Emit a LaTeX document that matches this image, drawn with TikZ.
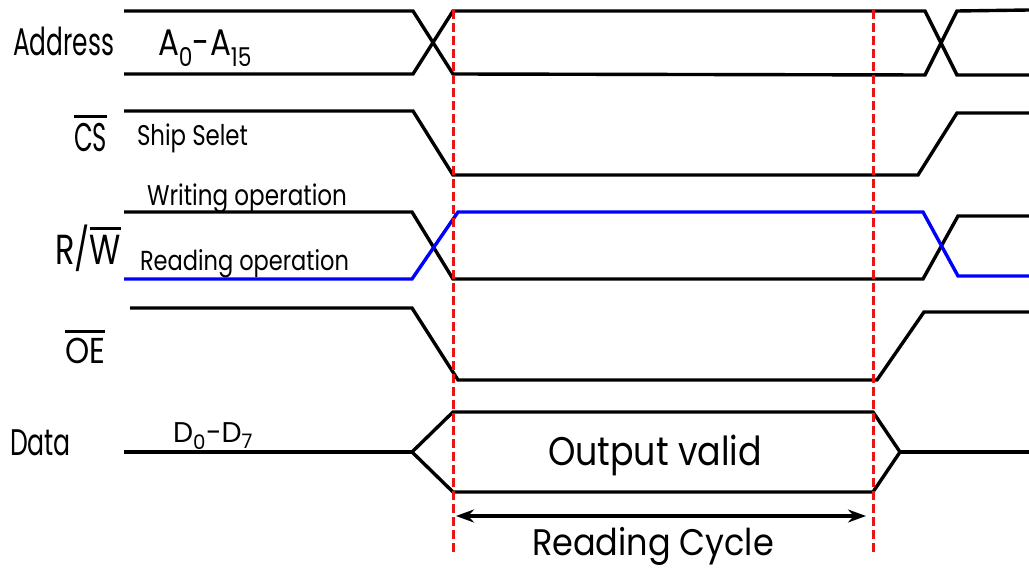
\documentclass[tikz,border=0pt]{standalone}
\usepackage{fontspec}
\setmainfont{Poppins}
\usetikzlibrary{arrows.meta}
% text of given width (pt) and size (pt), scaled horizontally only
\newcommand\fitw[3]{\resizebox{#1pt}{\height}{\fontsize{#2pt}{#2pt}\selectfont #3}}
% text-mode overline bar
\newcommand\ovbar[1]{\vbox{\hrule height 2.6pt\kern 6pt\hbox{#1}}}
\definecolor{wave}{RGB}{0,0,0}
\definecolor{rdwave}{RGB}{0,0,255}
\definecolor{marker}{RGB}{235,20,20}
\begin{document}
\begin{tikzpicture}[x=1pt,y=-1pt,
  sig/.style={draw=wave, line width=3.4pt, line join=miter},
  rdsig/.style={draw=rdwave, line width=3.4pt},
  mark line/.style={draw=marker, line width=3pt, dash pattern=on 9pt off 4pt},
  txt/.style={inner sep=0pt, outer sep=0pt, anchor=base west}]
\useasboundingbox (0,0) rectangle (1029,569);

% ---- signal names ----
\node[txt] (lAddr) at (13,56)  {\fitw{101}{38.5}{Address}};
\node[txt] (lCS)   at (74,152) {\fitw{33}{40}{\ovbar{CS}}};
\node[txt] (lRW)   at (55,265) {\fitw{66}{42}{R/\ovbar{W}}};
\node[txt] (lOE)   at (65,364) {\fitw{40}{36}{\ovbar{OE}}};
\node[txt] (lData) at (10,456) {\fitw{61}{37}{Data}};

% ---- annotations ----
\node[txt] (tAbus) at (158,56)  {\fitw{94}{37}{A\textsubscript{0}-A\textsubscript{15}}};
\node[txt] (tChip) at (137,146) {\fitw{111}{28.5}{Ship Selet}};
\node[txt] (tWr)   at (147,206) {\fitw{200}{28.5}{Writing operation}};
\node[txt] (tRd)   at (140,271) {\fitw{209}{27.5}{Reading operation}};
\node[txt] (tDbus) at (173,443) {\fitw{80}{28.5}{D\textsubscript{0}-D\textsubscript{7}}};
\node[txt] (tOut)  at (548,466) {\fitw{214}{40}{Output valid}};
\node[txt] (tCyc)  at (532,555) {\fitw{242}{37}{Reading Cycle}};

% ---- Address bus ----
\draw[sig] (124,11) -- (413,11) -- (453,74) -- (925,75) -- (957,11) -- (1029,10);
\draw[sig] (124,74) -- (413,74) -- (453,11) -- (925,11) -- (957,75) -- (1029,75);

% ---- chip select ----
\draw[sig] (124,111) -- (413,111) -- (453,175) -- (918,175) -- (957,113) -- (1029,113);

% ---- read / write ----
\draw[sig] (124,212) -- (412,212) -- (453,279) -- (923,279) -- (958,216) -- (1029,216);
\draw[rdsig] (124,279) -- (412,279) -- (458,212) -- (923,212) -- (958,276) -- (1029,276);

% ---- output enable ----
\draw[sig] (130,308) -- (412,308) -- (458,380) -- (877,380) -- (924,312) -- (1029,312);

% ---- data bus ----
\draw[sig] (124,452) -- (412,452);
\draw[sig] (453,412) -- (873,412) -- (900,452) -- (873,492) -- (453,492) -- (412,452) -- cycle;
\draw[sig] (900,452) -- (1029,452);

% ---- timing markers ----
\coordinate (mA0) at (453,10);  \coordinate (mA1) at (453,554);
\coordinate (mB0) at (873,10);  \coordinate (mB1) at (873,555);
\draw[mark line] (mA0) -- (mA1);
\draw[mark line] (mB0) -- (mB1);

% ---- reading cycle span ----
\coordinate (cycA) at (456,516);
\coordinate (cycB) at (866,516);
\draw[line width=3.4pt, {Stealth[length=18pt,width=13pt]}-{Stealth[length=18pt,width=13pt]}] (cycA) -- (cycB);
\end{tikzpicture}
\end{document}
